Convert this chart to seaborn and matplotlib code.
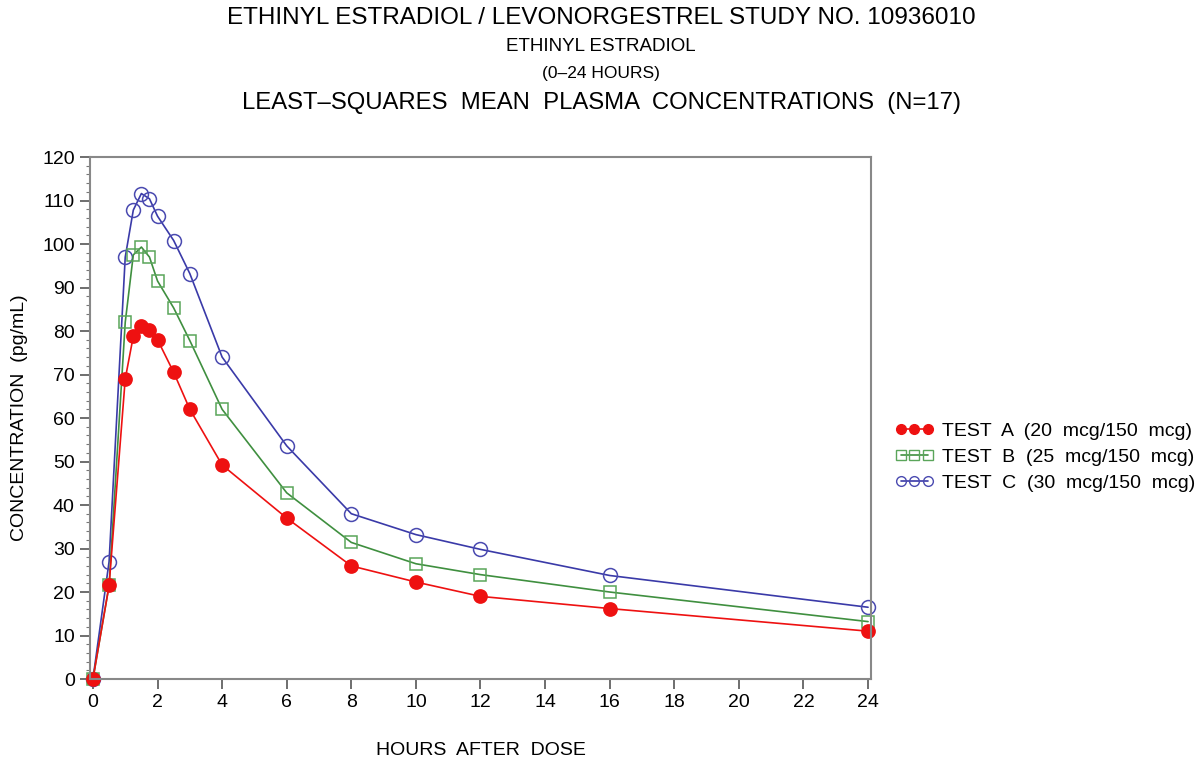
import matplotlib
matplotlib.use("Agg")
import matplotlib.pyplot as plt
from matplotlib.ticker import MultipleLocator
from matplotlib.lines import Line2D
import seaborn as sns
import pandas as pd

hours = [0, 0.5, 1, 1.25, 1.5, 1.75, 2, 2.5, 3, 4, 6, 8, 10, 12, 16, 24]
test_a = [0, 21.5, 69, 78.8, 81.1, 80.2, 78, 70.5, 62, 49.2, 37, 26, 22.3, 19, 16.2, 11]
test_b = [0, 21.5, 82, 97.5, 99.3, 97, 91.5, 85.3, 77.8, 62, 42.8, 31.4, 26.5, 24, 20, 13.2]
test_c = [0, 27, 97, 107.8, 111.6, 110.4, 106.4, 100.8, 93.2, 74, 53.6, 38, 33.2, 29.8, 23.8, 16.5]
labels = ["TEST  A  (20  mcg/150  mcg)", "TEST  B  (25  mcg/150  mcg)", "TEST  C  (30  mcg/150  mcg)"]
title_lines = ["ETHINYL ESTRADIOL / LEVONORGESTREL STUDY NO. 10936010",
               "ETHINYL ESTRADIOL", "(0\u201324 HOURS)",
               "LEAST\u2013SQUARES  MEAN  PLASMA  CONCENTRATIONS  (N=17)"]
x_ticks = list(range(0, 25, 2))
y_ticks = list(range(0, 121, 10))

sns.set_theme(style="white")
plt.rcParams['font.family'] = ['Liberation Sans', 'DejaVu Sans']
plt.rcParams['text.color'] = 'black'
plt.rcParams['axes.labelcolor'] = 'black'

df = pd.concat([
    pd.DataFrame({"hours": hours, "conc": test_a, "group": labels[0]}),
    pd.DataFrame({"hours": hours, "conc": test_b, "group": labels[1]}),
    pd.DataFrame({"hours": hours, "conc": test_c, "group": labels[2]}),
])

fig = plt.figure(figsize=(12.02, 7.67), dpi=100)
ax = fig.add_axes([0.0749, 0.1147, 0.6497, 0.6806])

styles = {
    labels[0]: dict(color="#ee1111", marker="o", mfc="#ee1111", mec="#ee1111", ms=9.5),
    labels[1]: dict(color="#3f8f3f", marker="s", mfc="none", mec="#5aa55a", ms=9),
    labels[2]: dict(color="#3a3aa8", marker="o", mfc="none", mec="#4a4ab0", ms=10),
}
order = [labels[2], labels[1], labels[0]]
for g in order:
    st = styles[g]
    sns.lineplot(data=df[df.group == g], x="hours", y="conc", ax=ax,
                 color=st["color"], marker=st["marker"], markersize=st["ms"],
                 markerfacecolor=st["mfc"], markeredgecolor=st["mec"],
                 markeredgewidth=1.1, linewidth=1.2, legend=False,
                 errorbar=None, clip_on=False)

ax.set_xlim(-0.09, 24.09)
ax.set_ylim(0, 120)
ax.set_xticks(x_ticks)
ax.set_yticks(y_ticks)
ax.yaxis.set_minor_locator(MultipleLocator(2))
ax.tick_params(axis="both", which="major", direction="out", length=7, width=1.2,
               color="#555555", labelsize=14, labelcolor="black", pad=4)
ax.tick_params(axis="y", which="minor", direction="out", length=3, width=0.8,
               color="#777777", left=True)
ax.tick_params(axis="x", bottom=True)
ax.tick_params(axis="y", left=True)
for s in ax.spines.values():
    s.set_color("#888888")
    s.set_linewidth(1.5)
ax.set_xlabel("HOURS  AFTER  DOSE", fontsize=14, labelpad=22)
ax.set_ylabel("CONCENTRATION  (pg/mL)", fontsize=14, labelpad=10)

handles = []
for g in labels:
    st = styles[g]
    handles.append(Line2D([], [], color=st["color"], marker=st["marker"], markersize=7,
                          markerfacecolor=st["mfc"], markeredgecolor=st["mec"], linewidth=1.2))
fig.legend(handles, labels, loc="center left", bbox_to_anchor=(0.738, 0.404),
           frameon=False, fontsize=14, numpoints=3, handlelength=2.0,
           handletextpad=0.4, labelspacing=0.42, borderaxespad=0)

fig.text(0.5, 0.976, title_lines[0], ha="center", va="center", fontsize=17.5)
fig.text(0.5, 0.940, title_lines[1], ha="center", va="center", fontsize=13.5)
fig.text(0.5, 0.904, title_lines[2], ha="center", va="center", fontsize=12.5)
fig.text(0.5, 0.866, title_lines[3], ha="center", va="center", fontsize=17.2)

fig.savefig("out.png", dpi=100)
